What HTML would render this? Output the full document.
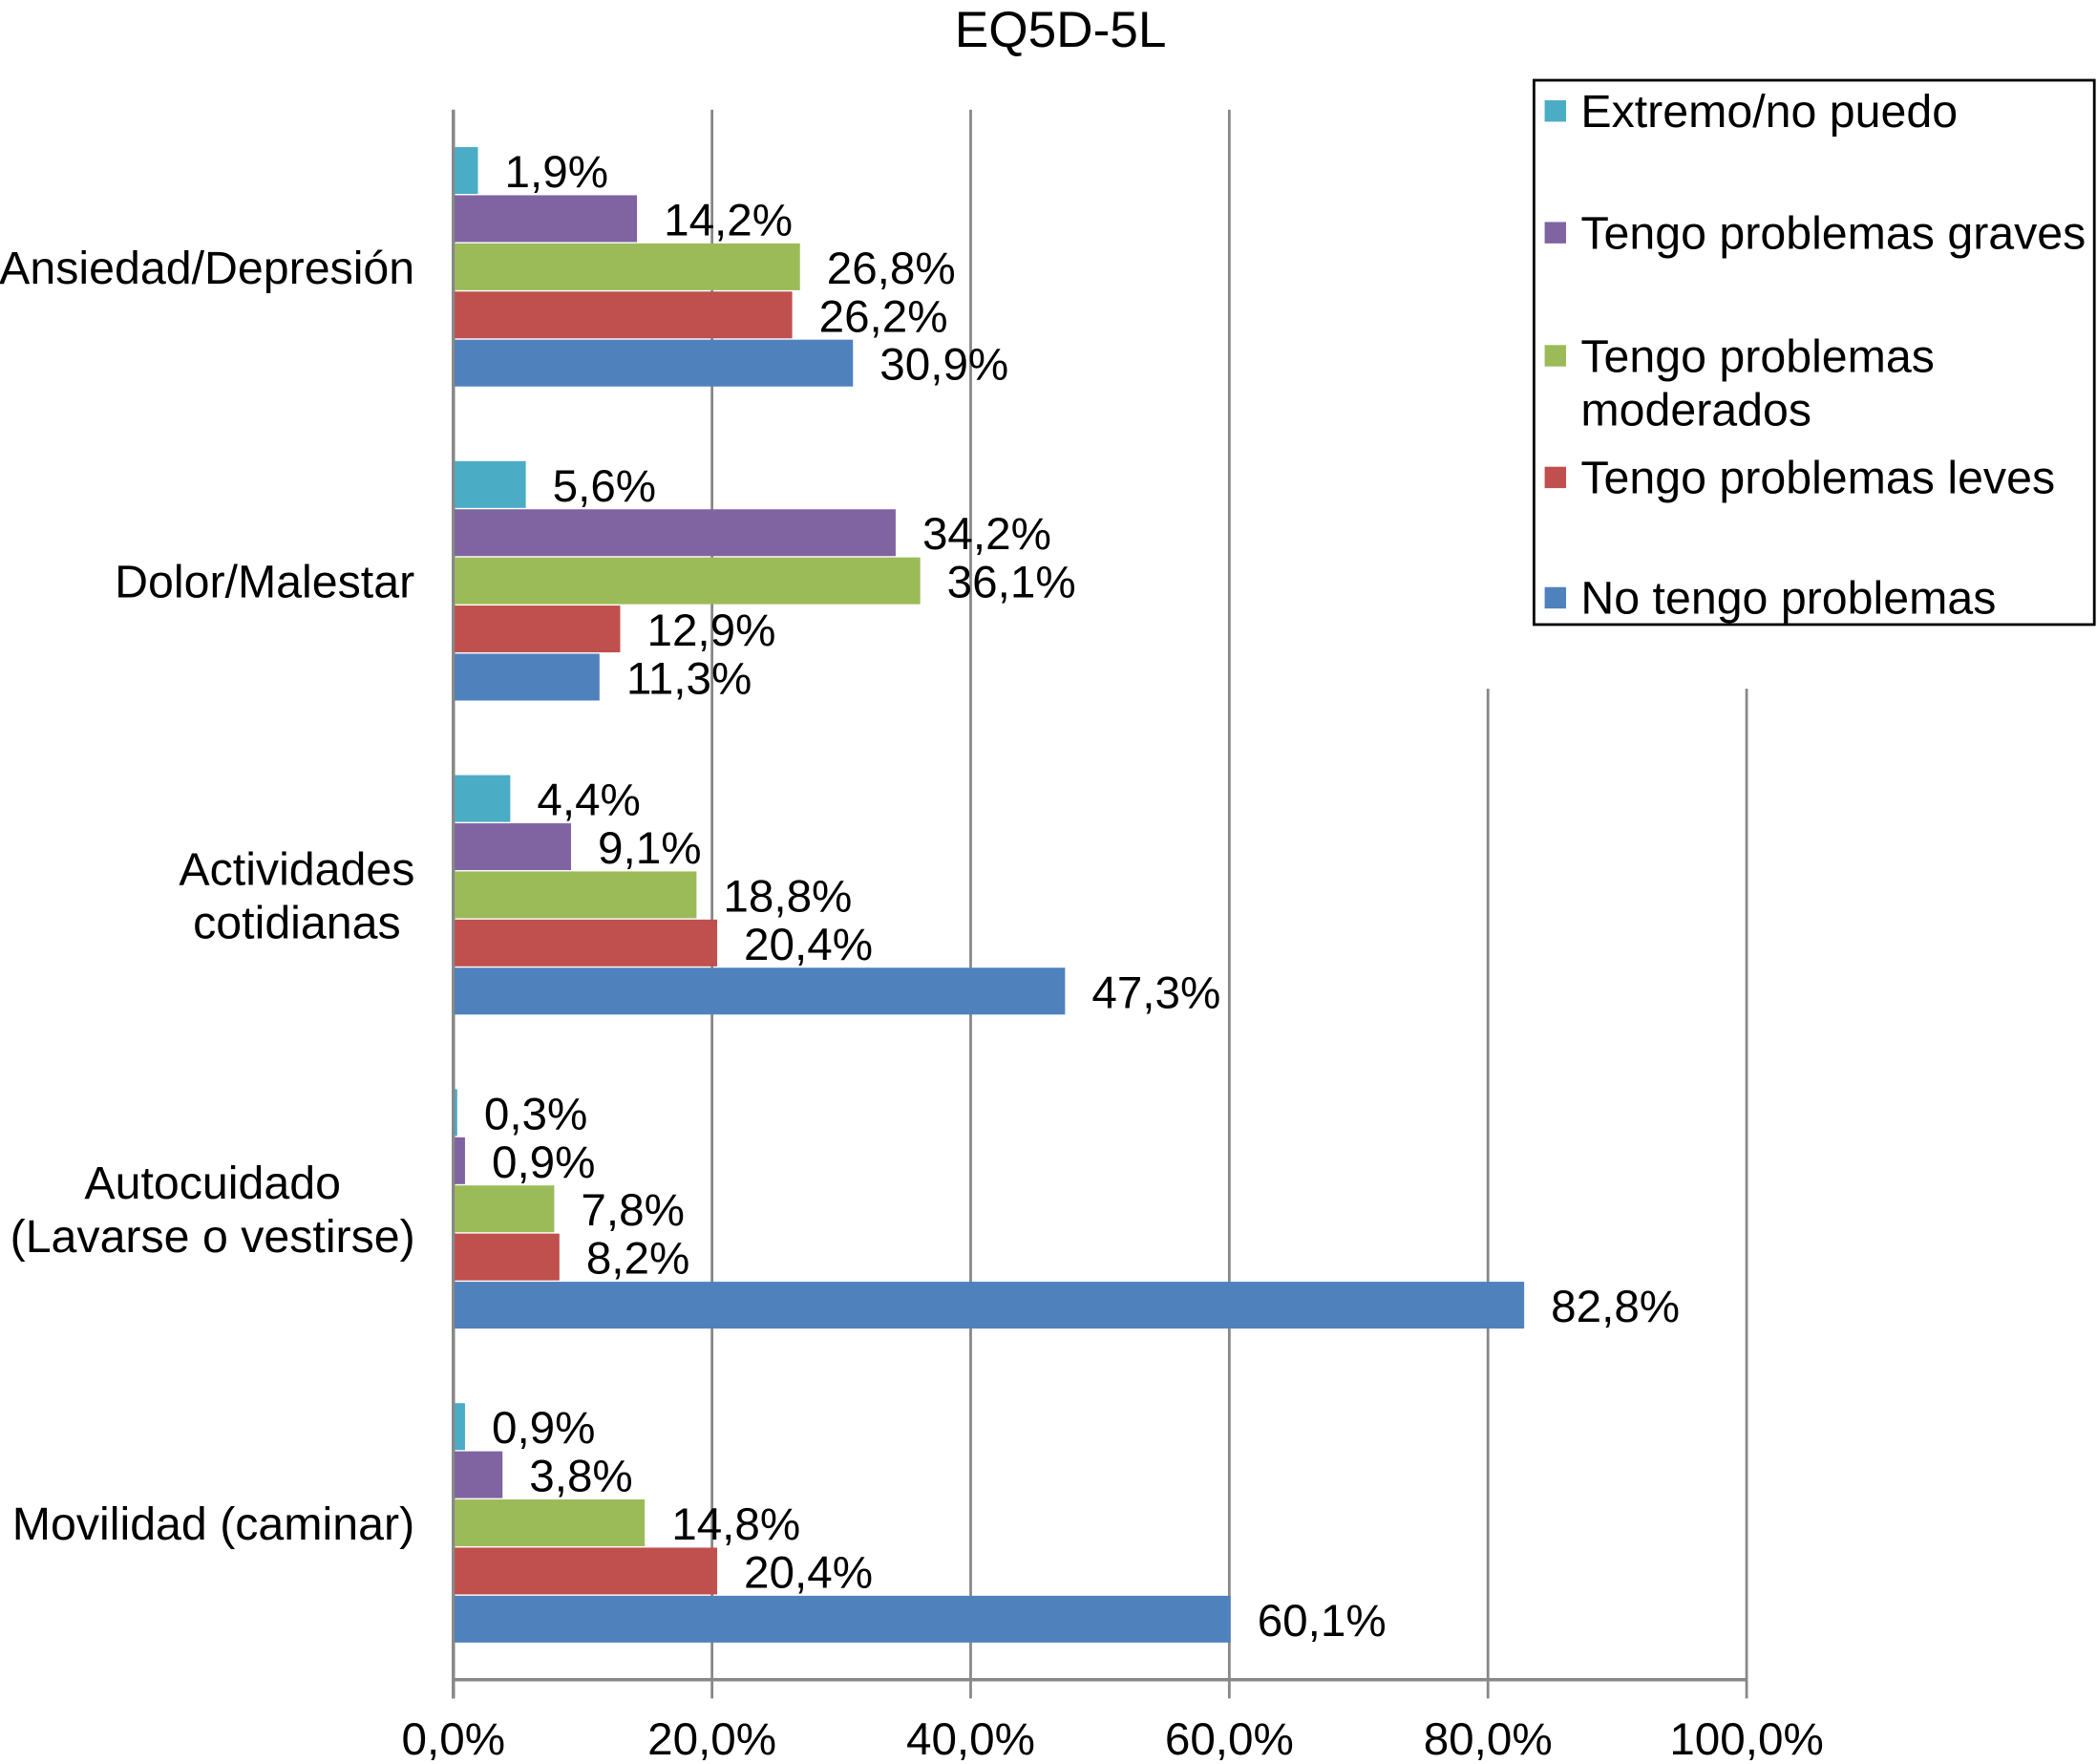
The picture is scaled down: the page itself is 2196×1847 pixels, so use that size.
<!DOCTYPE html>
<html><head><meta charset="utf-8"><style>
html,body{margin:0;padding:0;background:#fff;}
svg{display:block;font-family:"Liberation Sans",Arial,sans-serif;}
</style></head><body>
<svg id="chart" width="2196" height="1847" viewBox="0 0 1568 1319" preserveAspectRatio="none" xmlns="http://www.w3.org/2000/svg">
<rect width="1568" height="1319" fill="#fff"/>
<text x="793" y="35" font-size="38" text-anchor="middle">EQ5D-5L</text>
<g id="grid"></g>
<g id="bars"></g>
<g id="cats"></g>
<g id="ticks"></g>
<g id="legend">
<rect x="1147" y="60" width="419" height="407" fill="#fff" stroke="#000" stroke-width="2"/>
</g>
</svg>
<script>
const categories = [["Ansiedad/Depresión"],["Dolor/Malestar"],["Actividades","cotidianas"],["Autocuidado","(Lavarse o vestirse)"],["Movilidad (caminar)"]];
const extremo = [1.9, 5.6, 4.4, 0.3, 0.9];
const graves = [14.2, 34.2, 9.1, 0.9, 3.8];
const moderados = [26.8, 36.1, 18.8, 7.8, 14.8];
const leves = [26.2, 12.9, 20.4, 8.2, 20.4];
const noProblemas = [30.9, 11.3, 47.3, 82.8, 60.1];
const tickValues = [0, 20, 40, 60, 80, 100];
const tickLabels = ["0,0%","20,0%","40,0%","60,0%","80,0%","100,0%"];
const seriesNames = [["Extremo/no puedo"],["Tengo problemas graves"],["Tengo problemas","moderados"],["Tengo problemas leves"],["No tengo problemas"]];

const series = [extremo, graves, moderados, leves, noProblemas];
const colors = ["#4BACC6","#8064A2","#9BBB59","#C0504D","#4F81BD"];
const keys = ["extremo","graves","moderados","leves","no-problemas"];
const NS = "http://www.w3.org/2000/svg";
const X0 = 339, X1 = 1306, YTOP = 82, YBASE = 1256;
const xs = v => X0 + (X1 - X0) * v / 100;
const groupTop = i => 110 + i * 234.8;
const barH = 36;
function mk(tag, attrs, parent){const e=document.createElementNS(NS,tag);for(const k in attrs)e.setAttribute(k,attrs[k]);parent.appendChild(e);return e;}

const grid = document.getElementById('grid');
tickValues.forEach((t,i)=>{
  const x = xs(t);
  const top = t >= 80 ? 515 : YTOP;
  const l = mk('line',{x1:x,x2:x,y1:top,y2:YBASE+14,stroke:'#888','stroke-width':2},grid);
  
  
  const tx = mk('text',{x:x,y:1312,'font-size':34,'text-anchor':'middle'},document.getElementById('ticks'));
  tx.textContent = tickLabels[i];
  
  
});
const base = mk('line',{x1:X0,x2:X1,y1:YBASE,y2:YBASE,stroke:'#888','stroke-width':2.5},grid);


const yax = mk('line',{x1:X0,x2:X0,y1:YTOP,y2:YBASE+14,stroke:'#888','stroke-width':2.5},grid);



const bars = document.getElementById('bars');
categories.forEach((c,i)=>{
  series.forEach((s,j)=>{
    const y = groupTop(i) + j*barH;
    const r = mk('rect',{x:X0+1,y:y,width:Math.max(0,xs(s[i])-X0-1),height:barH-1,fill:colors[j]},bars);
    
    
    const t = mk('text',{x:xs(s[i])+20,y:y+barH/2+12,'font-size':34},bars);
    t.textContent = s[i].toFixed(1).replace('.',',')+'%';
    
    
  });
  const cy = groupTop(i) + 90;
  const g = document.getElementById('cats');
  const n = c.length;
  c.forEach((line,k)=>{
    const t = mk('text',{x: n>1 && i==2 ? 222 : (n>1 ? 159 : 310),y:cy+12+(k-(n-1)/2)*40,'font-size':34.5,'text-anchor': n>1 ? 'middle':'end'},g);
    t.textContent = line;
    
    
  });
});

const leg = document.getElementById('legend');
const legY = [83,174,266,357,447];
seriesNames.forEach((nm,j)=>{
  const sq = mk('rect',{x:1155,y:legY[j]-8,width:16,height:16,fill:colors[j]},leg);
  
  
  nm.forEach((line,k)=>{
    const t = mk('text',{x:1182,y:legY[j]+12+k*40,'font-size':34.5},leg);
    t.textContent = line;
    
    
  });
});
</script>
</body></html>
